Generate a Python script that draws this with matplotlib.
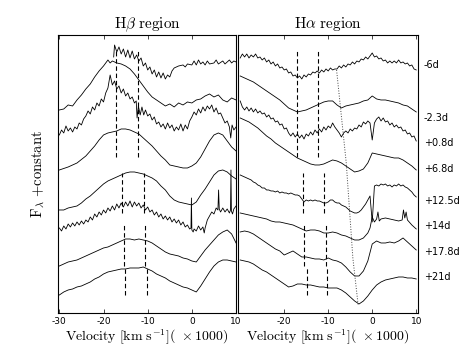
"""Stacked H-beta / H-alpha velocity profiles, two panels side by side."""

import matplotlib

matplotlib.use("Agg")

import matplotlib.pyplot as plt

EPOCHS = ["-6d", "-2.3d", "+0.8d", "+6.8d", "+12.5d", "+14d", "+17.8d", "+21d"]
LABEL_LEVEL = [248, 195, 170, 144, 112, 87, 61, 36]

# velocity grids (x1000 km/s)
VEL_1 = [-30, -29, -28, -27, -26, -25, -24, -23, -22, -21, -20, -19, -18, -17,
         -16, -15, -14, -13, -12, -11, -10, -9, -8, -7, -6, -5, -4, -3, -2, -1,
         0, 1, 2, 3, 4, 5, 6, 7, 8, 9, 10]
VEL_05 = [-30, -29.5, -29, -28.5, -28, -27.5, -27, -26.5, -26, -25.5,
          -25, -24.5, -24, -23.5, -23, -22.5, -22, -21.5, -21, -20.5,
          -20, -19.5, -19, -18.5, -18, -17.5, -17, -16.5, -16, -15.5,
          -15, -14.5, -14, -13.5, -13, -12.5, -12, -11.5, -11, -10.5,
          -10, -9.5, -9, -8.5, -8, -7.5, -7, -6.5, -6, -5.5,
          -5, -4.5, -4, -3.5, -3, -2.5, -2, -1.5, -1, -0.5,
          0, 0.5, 1, 1.5, 2, 2.5, 3, 3.5, 4, 4.5,
          5, 5.5, 6, 6.5, 7, 7.5, 8, 8.5, 9, 9.5, 10]

# ---- H-beta region (flux + constant, arbitrary units) ----
hb_m6_v = [-17.7, -17.5, -17.0, -16.5, -16.0, -15.5, -15.0, -14.5, -14.0, -13.5,
           -13.0, -12.5, -12.0, -11.5, -11.0, -10.5, -10.0, -9.5, -9.0, -8.5,
           -8.0, -7.5, -7.0, -6.5, -6.0, -5.5, -5.0, -4.5, -4.0,
           -3.0, -2.0, -1.5, -1.0, 0.0,
           0.5, 1.0, 1.5, 2.0, 2.5, 3.0, 3.5, 4.0,
           5.0, 5.5, 6.0, 7.0, 7.5, 8.0, 8.5, 9.0, 9.5, 10.0]
hb_m6_f = [256, 268, 261, 266, 259, 264, 256, 263, 255, 262,
           254, 258, 252, 255, 247, 250, 243, 246, 239, 243,
           236, 241, 235, 240, 234, 238, 236, 242, 245,
           247, 248, 246, 249, 248,
           252, 248, 253, 249, 251, 248, 252, 249,
           250, 253, 249, 252, 249, 251, 253, 250, 252, 251]

hb_m2_v = [-30, -29, -28, -27, -26, -25, -24, -23, -22, -21, -20,
           -19.5, -19, -18.5, -18,
           -17, -16, -15, -14, -13, -12, -11, -10, -9, -8,
           -7, -6, -5, -4, -3, -2, -1, 0,
           1, 2, 3, 4, 5, 6, 7, 8, 9, 10]
hb_m2_f = [203, 204, 208, 207, 213, 218, 224, 229, 236, 242, 247,
           250, 253, 250, 252,
           250, 249, 247, 244, 239, 233, 227, 221, 216, 213,
           210, 207, 209, 206, 210, 208, 211, 210,
           213, 214, 217, 219, 216, 218, 213, 211, 215, 213]

hb_p08_v = [-30, -29.5, -29, -28.5, -28, -27.5, -27, -26.5, -26, -25.5,
            -25, -24.5, -24, -23.5, -23, -22.5, -22, -21.5, -21, -20.5,
            -20, -19.5, -19, -18.5, -18, -17.5, -17, -16.5, -16, -15.5,
            -15, -14.5, -14, -13.5, -13,
            -12.6, -12.4, -12.1, -11.7, -11.3, -10.9, -10.5,
            -10, -9.5, -9, -8.5, -8, -7.5, -7, -6.5, -6, -5.5,
            -5, -4.5, -4, -3.5, -3, -2.5, -2, -1.5, -1, -0.5,
            0, 0.5, 1, 1.5, 2, 2.5, 3, 3.5, 4, 4.5,
            5, 5.5, 6, 6.5, 7, 7.5, 8, 8.5,
            8.8, 9.1, 9.5, 10]
hb_p08_f = [178, 183, 180, 187, 182, 185, 181, 186, 184, 190,
            188, 194, 197, 202, 199, 206, 203, 210, 207, 214,
            211, 220, 225, 238, 228, 232, 224, 227, 220, 224,
            217, 220, 214, 216, 210,
            212, 195, 207, 198, 206, 198, 203,
            197, 199, 193, 196, 189, 191, 186, 189, 184, 190,
            185, 188, 182, 186, 183, 189, 182, 188, 184, 192,
            196, 201, 198, 204, 200, 206, 202, 207, 204, 208,
            201, 205, 199, 200, 195, 190, 192, 186,
            175, 188, 183, 186]

hb_p68_v = [-30, -28, -26, -24, -22,
            -21, -20, -19, -18, -17, -16, -15, -14, -13, -12,
            -11, -10, -9, -8, -7, -6, -5, -4, -3, -2,
            -1, 0, 1, 2, 3, 4, 5, 6, 7, 8, 9, 10]
hb_p68_f = [143, 146, 150, 157, 167,
            173, 178, 180, 181, 182, 184, 184, 183, 181, 179,
            175, 171, 167, 162, 157, 153, 148, 147, 146, 145,
            145, 147, 150, 156, 164, 172, 178, 180, 178, 172, 166, 162]

hb_p125_f = [103, 103, 105, 106, 107, 110, 114, 117, 121, 125,
             129, 132, 134, 136, 138, 140, 141, 141, 140, 139,
             137, 135, 132, 127, 123, 117, 113, 111, 110, 109,
             108, 111, 118, 124, 131, 138, 142, 143, 141, 137, 134]

hb_p14_v = [-30, -29.5, -29, -28.5, -28, -27.5, -27, -26.5, -26, -25.5,
            -25, -24.5, -24, -23.5, -23, -22.5, -22, -21.5, -21, -20.5,
            -20, -19.5, -19, -18.5, -18, -17.5, -17, -16.5, -16, -15.5,
            -15, -14.5, -14, -13.5, -13, -12.5, -12, -11.5, -11, -10.5,
            -10, -9.5, -9, -8.5, -8, -7.5, -7, -6.5, -6, -5.5,
            -5, -4.5, -4, -3.5, -3, -2.5, -2, -1.5, -1, -0.5,
            -0.2, -0.1, 0.0, 0.3, 0.5, 1, 1.5, 2, 2.5, 2.8,
            3, 3.5, 4, 4.5, 5, 5.5, 5.9, 6.05, 6.2, 6.5,
            7, 7.5, 8, 8.5, 8.75, 8.85, 8.95, 9.2, 9.5, 10]
hb_p14_f = [85, 82, 87, 84, 89, 86, 90, 87, 91, 88,
            92, 89, 93, 91, 96, 93, 99, 96, 101, 98,
            103, 100, 105, 102, 107, 103, 109, 105, 110, 106,
            111, 107, 112, 106, 111, 107, 110, 105, 108, 103,
            106, 101, 103, 98, 101, 96, 99, 94, 97, 93,
            96, 91, 94, 90, 93, 88, 91, 86, 88, 84,
            85, 115, 83, 81, 84, 82, 87, 83, 86, 80,
            85, 93, 97, 101, 99, 105, 103, 123, 104, 101,
            105, 101, 104, 100, 103, 143, 102, 99, 104, 107]

hb_p178_f = [47, 49, 51, 52, 53, 55, 57, 59, 61, 63,
             65, 66, 68, 70, 72, 74, 74, 73, 74, 73,
             72, 70, 67, 64, 61, 59, 58, 57, 55, 54,
             52, 51, 57, 63, 68, 73, 78, 81, 83, 79, 70]

hb_p21_f = [18, 21, 23, 24, 26, 27, 29, 31, 34, 36,
            39, 41, 42, 43, 44, 44, 45, 45, 45, 46,
            44, 42, 39, 37, 35, 32, 30, 28, 26, 25,
            23, 21, 27, 34, 41, 47, 51, 53, 53, 52, 51]

# ---- H-alpha region ----
ha_m6_f = [255, 259, 256, 259, 255, 258, 256, 259, 255, 256,
           253, 255, 251, 253, 249, 251, 247, 249, 245, 246,
           243, 244, 240, 241, 237, 238, 235, 237, 234, 238,
           236, 239, 238, 241, 240, 242, 240, 243, 241, 244,
           242, 245, 243, 244, 244, 247, 245, 248, 246, 249,
           248, 251, 249, 252, 251, 254, 253, 256, 254, 257,
           260, 256, 257, 254, 255, 252, 253, 250, 252, 250,
           252, 250, 253, 250, 251, 249, 250, 247, 248, 244,
           243]

ha_m2_f = [237, 235, 233, 231, 228, 225, 222, 219, 216, 213,
           209, 205, 203, 201, 202, 203, 205, 207, 209, 211,
           212, 212, 208, 205, 207, 208, 209, 210, 212, 213,
           217, 214, 213, 213, 212, 211, 210, 208, 207, 204, 201]

ha_p08_f = [212, 206, 203, 206, 202, 205, 201, 204, 200, 202,
            199, 200, 196, 198, 194, 195, 191, 192, 188, 189,
            184, 185, 180, 177, 180, 176, 179, 175, 178, 174,
            179, 177, 181, 178, 183, 180, 184, 181, 186, 183,
            187, 185, 190, 186, 183, 180, 176, 180, 182, 180,
            184, 182, 185, 184, 188, 186, 191, 189, 192, 190,
            173, 190, 194, 196, 192, 195, 191, 192, 188, 190,
            186, 188, 185, 186, 182, 183, 179, 180, 176, 177,
            172]

ha_p68_f = [195, 193, 191, 188, 185, 181, 177, 174, 170, 167,
            164, 161, 158, 155, 153, 151, 149, 148, 148, 149,
            151, 153, 152, 150, 147, 144, 141, 142, 144, 150,
            160, 159, 158, 157, 156, 155, 155, 153, 150, 147, 143]

ha_p125_f = [138, 137, 136, 135, 134, 133, 131, 130, 128, 127,
             125, 125, 123, 123, 122, 122, 121, 122, 120, 121,
             120, 120, 119, 120, 119, 118, 118, 117, 114, 111,
             113, 112, 113, 112, 113, 112, 112, 111, 110, 110,
             111, 113, 113, 111, 110, 110, 108, 107, 106, 104,
             102, 101, 100, 100, 101, 103, 106, 109, 113, 117,
             91, 127, 128, 127, 129, 128, 129, 127, 128, 126,
             128, 127, 129, 127, 128, 126, 125, 123, 121, 118,
             116]

ha_p14_v = [-30, -29, -28, -27, -26, -25, -24, -23, -22, -21,
            -20, -19, -18, -17, -16, -15, -14, -13, -12, -11,
            -10, -9, -8, -7, -6, -5, -4, -3, -2, -1,
            -0.5, 0, 0.5, 1.0, 1.3, 1.6,
            2, 3, 4, 5, 6,
            6.8, 7.1, 7.4, 7.7, 8,
            9, 10]
ha_p14_f = [100, 99, 98, 97, 96, 95, 94, 92, 91, 91,
            90, 89, 88, 86, 84, 82, 83, 83, 82, 80,
            80, 81, 80, 78, 77, 75, 73, 73, 75, 80,
            85, 96, 91, 94, 101, 92,
            94, 95, 94, 93, 92,
            93, 103, 95, 101, 93,
            88, 84]

ha_p178_f = [81, 82, 81, 79, 76, 73, 70, 67, 64, 62,
             58, 60, 62, 59, 56, 56, 55, 54, 54, 53,
             55, 53, 52, 50, 46, 41, 37, 37, 42, 52,
             69, 72, 70, 70, 71, 70, 72, 75, 71, 67, 63]

ha_p21_f = [53, 52, 51, 49, 46, 43, 41, 38, 35, 32,
            29, 26, 27, 29, 29, 28, 28, 27, 26, 26,
            25, 25, 25, 23, 20, 16, 12, 9, 12, 17,
            23, 28, 31, 33, 34, 35, 36, 36, 35, 35, 34]

# dashed velocity markers: (blue edge, red edge) and vertical extent
HB_MARK_VEL = [(-17.1, -12.3), (-15.8, -10.9), (-15.45, -10.5), (-15.07, -10.17)]
HA_MARK_VEL = [(-17.1, -12.3), (-15.8, -11.0), (-15.45, -10.6), (-14.9, -10.2)]
MARK_SPAN = [(156, 264), (100, 140), (47, 88), (18, 45)]

# dotted trace of the H-alpha absorption minimum
ha_min_v = [-8.1, -5.9, -4.4, -3.2]
ha_min_f = [243, 150, 55, 8]

HB_SPECTRA = [
    (hb_m6_v, hb_m6_f), (hb_m2_v, hb_m2_f), (hb_p08_v, hb_p08_f),
    (hb_p68_v, hb_p68_f), (VEL_1, hb_p125_f), (hb_p14_v, hb_p14_f),
    (VEL_1, hb_p178_f), (VEL_1, hb_p21_f),
]
HA_SPECTRA = [
    (VEL_05, ha_m6_f), (VEL_1, ha_m2_f), (VEL_05, ha_p08_f),
    (VEL_1, ha_p68_f), (VEL_05, ha_p125_f), (ha_p14_v, ha_p14_f),
    (VEL_1, ha_p178_f), (VEL_1, ha_p21_f),
]

plt.rcParams.update({
    "mathtext.fontset": "cm",
    "axes.unicode_minus": False,
    "axes.linewidth": 0.8,
})

fig = plt.figure(figsize=(4.63, 3.48), dpi=100)
ax_b = fig.add_axes([0.1253, 0.1006, 0.3845, 0.7989])
ax_a = fig.add_axes([0.5140, 0.1006, 0.3888, 0.7989])

ink = "black"


def _draw_panel(ax, spectra, marks, title, xlim, xticks):
    for v, f in spectra:
        ax.plot(v, f, color=ink, lw=0.6)
    for (v_blue, v_red), (lo, hi) in zip(marks, MARK_SPAN):
        for vv in (v_blue, v_red):
            ax.plot([vv, vv], [lo, hi], color=ink, lw=0.8, dashes=(4, 2.5))
    ax.set_xlim(*xlim)
    ax.set_ylim(0, 278)
    ax.set_yticks([])
    ax.set_xticks(xticks)
    ax.tick_params(axis="x", direction="in", top=True, bottom=True,
                   length=3, width=0.5, labelsize=6.5, pad=3)
    ax.set_title(title, fontsize=11, pad=5)
    ax.set_xlabel(r"$\mathrm{Velocity\ [km\ s^{-1}](\ \times 1000)}$",
                  fontsize=10, labelpad=1)


_draw_panel(ax_b, HB_SPECTRA, HB_MARK_VEL,
            r"$\mathrm{H}\beta\ \mathrm{region}$", (-30.3, 10.0),
            [-30, -20, -10, 0, 10])
_draw_panel(ax_a, HA_SPECTRA, HA_MARK_VEL,
            r"$\mathrm{H}\alpha\ \mathrm{region}$", (-30.5, 10.4),
            [-20, -10, 0, 10])

ax_a.plot(ha_min_v, ha_min_f, color="#444444", lw=0.7, ls=":")

ax_b.set_ylabel(r"$\mathrm{F}_\lambda\ \mathrm{+constant}$", fontsize=10.5,
                labelpad=8)

for label, level in zip(EPOCHS, LABEL_LEVEL):
    ax_a.annotate(label, xy=(1.0, level), xycoords=ax_a.get_yaxis_transform(),
                  xytext=(4, 0), textcoords="offset points",
                  ha="left", va="center", fontsize=7, annotation_clip=False)

fig.savefig("out.png", dpi=100)
